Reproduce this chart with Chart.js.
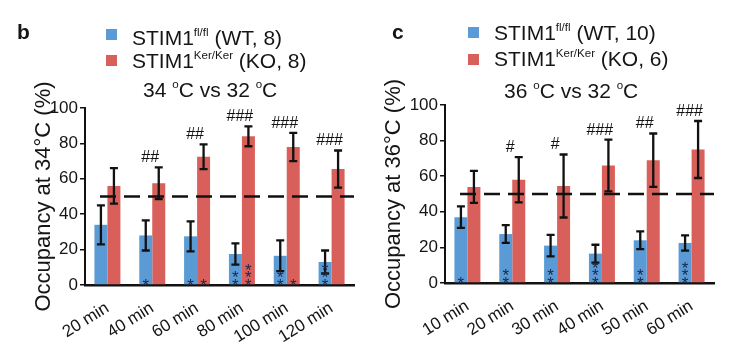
<!DOCTYPE html>
<html>
<head>
<meta charset="utf-8">
<script src="https://cdn.jsdelivr.net/npm/chart.js@4.4.1/dist/chart.umd.min.js"></script>
<style>
  html, body { margin:0; padding:0; background:#fff; }
  body { width:734px; height:359px; position:relative; overflow:hidden; font-family:"Liberation Sans", Arial, sans-serif; color:#151515; }
  canvas { position:absolute; top:0; }
  .t { position:absolute; white-space:nowrap; line-height:1; font-size:21px; }
  .t sup { font-size:0.55em; line-height:0; position:relative; top:-0.1em; vertical-align:super; }
  .lbl { font-weight:bold; font-size:21px; }
  .sq { position:absolute; width:11px; height:11px; }
</style>
</head>
<body>
<canvas id="cb" width="367" height="359" style="left:0"></canvas>
<canvas id="cc" width="367" height="359" style="left:367px"></canvas>

<div class="t lbl" style="left:17px; top:21px;">b</div>
<div class="sq" style="left:106px; top:29px; background:#5b9bd5"></div>
<div class="t" style="left:132px; top:27px;">STIM1<sup>fl/fl</sup> (WT, 8)</div>
<div class="sq" style="left:106px; top:55px; background:#d9605a"></div>
<div class="t" style="left:132px; top:50px;">STIM1<sup>Ker/Ker</sup> (KO, 8)</div>
<div class="t" style="left:143px; top:79px;">34 <sup>o</sup>C vs 32 <sup>o</sup>C</div>

<div class="t lbl" style="left:392px; top:21px;">c</div>
<div class="sq" style="left:468px; top:27px; background:#5b9bd5"></div>
<div class="t" style="left:494px; top:22px;">STIM1<sup>fl/fl</sup> (WT, 10)</div>
<div class="sq" style="left:468px; top:54px; background:#d9605a"></div>
<div class="t" style="left:494px; top:48px;">STIM1<sup>Ker/Ker</sup> (KO, 6)</div>
<div class="t" style="left:504px; top:80px;">36 <sup>o</sup>C vs 32 <sup>o</sup>C</div>

<script>
// ---------- data: panel b (34 °C vs 32 °C) ----------
const bCategories = ['20 min', '40 min', '60 min', '80 min', '100 min', '120 min'];
const bWT      = [34, 28, 27.5, 17.5, 16.5, 13];
const bWTErr   = [11, 8.5, 8.5, 6, 8.7, 6.5];
const bKO      = [56, 57.5, 72.5, 84, 78, 65.5];
const bKOErr   = [10, 9, 7, 5.6, 8, 10.5];
const bHashes  = ['', '##', '##', '###', '###', '###'];
const bWTStars = [0, 1, 1, 2, 2, 3];
const bKOStars = [0, 0, 1, 3, 1, 0];

// ---------- data: panel c (36 °C vs 32 °C) ----------
const cCategories = ['10 min', '20 min', '30 min', '40 min', '50 min', '60 min'];
const cWT      = [37, 27.5, 21, 16.5, 24, 22.5];
const cWTErr   = [6, 5, 6, 5, 5, 4.3];
const cKO      = [54, 58, 54.5, 66, 69, 75];
const cKOErr   = [9, 12.7, 17.7, 14.5, 15, 16];
const cHashes  = ['', '#', '#', '###', '##', '###'];
const cWTStars = [1, 2, 2, 3, 2, 3];
const cKOStars = [0, 0, 0, 0, 0, 0];

const yTicks = [0, 20, 40, 60, 80, 100];
const refLevel = 50;

const FONT = '"Liberation Sans", Arial, sans-serif';
const INK = '#151515';
Chart.defaults.font.family = FONT;
Chart.defaults.color = INK;

function makePanel(id, cats, wt, wtErr, ko, koErr, hashes, wtStars, koStars, yTitle, geo) {
  const annot = {
    id: 'annot',
    afterDatasetsDraw(chart) {
      const ctx = chart.ctx;
      const y = chart.scales.y;
      const area = chart.chartArea;
      // dashed reference line
      ctx.save();
      ctx.strokeStyle = '#111';
      ctx.lineWidth = 2.5;
      ctx.setLineDash([16, 8]);
      const yr = y.getPixelForValue(refLevel);
      ctx.beginPath();
      ctx.moveTo(area.left + 15, yr);
      ctx.lineTo(area.right, yr);
      ctx.stroke();
      ctx.restore();

      const errs = [wtErr, koErr];
      const vals = [wt, ko];
      const stars = [wtStars, koStars];
      // error bars
      ctx.save();
      ctx.strokeStyle = '#111';
      ctx.lineWidth = 2.3;
      for (let d = 0; d < 2; d++) {
        const meta = chart.getDatasetMeta(d);
        meta.data.forEach((bar, i) => {
          const top = y.getPixelForValue(vals[d][i] + errs[d][i]);
          const bot = y.getPixelForValue(vals[d][i] - errs[d][i]);
          ctx.beginPath();
          ctx.moveTo(bar.x, top); ctx.lineTo(bar.x, bot);
          ctx.moveTo(bar.x - 4, top); ctx.lineTo(bar.x + 4, top);
          ctx.moveTo(bar.x - 4, bot); ctx.lineTo(bar.x + 4, bot);
          ctx.stroke();
        });
      }
      ctx.restore();
      // asterisks
      ctx.save();
      ctx.fillStyle = '#1c2448';
      ctx.font = '17px ' + FONT;
      ctx.textAlign = 'center';
      ctx.textBaseline = 'alphabetic';
      const y0 = y.getPixelForValue(0);
      for (let d = 0; d < 2; d++) {
        const meta = chart.getDatasetMeta(d);
        meta.data.forEach((bar, i) => {
          for (let k = 0; k < stars[d][i]; k++) {
            const cy = y0 - 4.5 - k * 7.5;
            ctx.fillText('*', bar.x, cy + 10);
          }
        });
      }
      ctx.restore();
      // hash marks
      ctx.save();
      ctx.fillStyle = '#111';
      ctx.font = '16px ' + FONT;
      ctx.textAlign = 'center';
      ctx.textBaseline = 'alphabetic';
      const xs = chart.scales.x;
      hashes.forEach((h, i) => {
        if (!h) return;
        const top = y.getPixelForValue(ko[i] + koErr[i]);
        ctx.fillText(h, xs.getPixelForValue(i) - 2, top - 5);
      });
      ctx.restore();
    }
  };

  return new Chart(document.getElementById(id), {
    type: 'bar',
    data: {
      labels: cats,
      datasets: [
        { label: 'WT', data: wt, backgroundColor: '#5b9bd5', categoryPercentage: 0.58, barPercentage: 1.0 },
        { label: 'KO', data: ko, backgroundColor: '#d9605a', categoryPercentage: 0.58, barPercentage: 1.0 }
      ]
    },
    options: {
      responsive: false,
      animation: false,
      devicePixelRatio: 1,
      layout: { padding: { left: 0, top: geo.top, right: geo.right, bottom: geo.bottom } },
      plugins: { legend: { display: false }, tooltip: { enabled: false } },
      scales: {
        x: {
          grid: { display: false },
          border: { display: true, color: '#111', width: 2.5 },
          ticks: { font: { size: 17 }, color: INK, minRotation: 32, maxRotation: 32, autoSkip: false, padding: 5 },
          afterFit(s) { s.height = 60; }
        },
        y: {
          min: 0, max: 100,
          grid: { drawOnChartArea: false, drawTicks: true, tickLength: 5, color: '#111', lineWidth: 1.5 },
          border: { display: true, color: '#111', width: 2 },
          ticks: {
            stepSize: 10, font: { size: 17 }, color: INK, padding: 2,
            callback: v => (yTicks.includes(v) ? String(v) : '')
          },
          title: { display: true, text: yTitle, font: { size: 22 }, color: INK, padding: { top: geo.titlePad, bottom: 0 } },
          afterFit(s) { s.width = geo.yWidth; }
        }
      }
    },
    plugins: [annot]
  });
}

makePanel('cb', bCategories, bWT, bWTErr, bKO, bKOErr, bHashes, bWTStars, bKOStars,
  'Occupancy at 34°C (%)', { top: 108, right: 13, bottom: 14, yWidth: 85, titlePad: 31 });
makePanel('cc', cCategories, cWT, cWTErr, cKO, cKOErr, cHashes, cWTStars, cKOStars,
  'Occupancy at 36°C (%)', { top: 105, right: 20, bottom: 16, yWidth: 78, titlePad: 14 });
</script>
</body>
</html>
